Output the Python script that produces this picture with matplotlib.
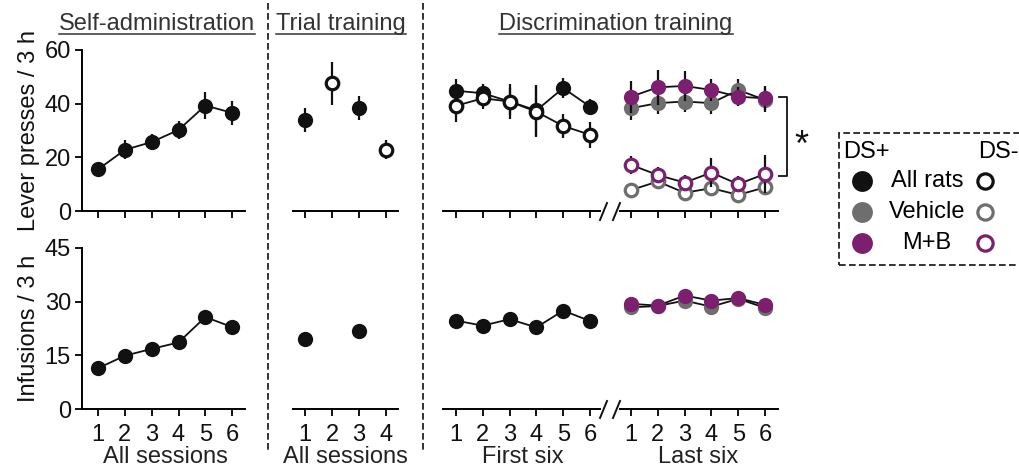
import numpy as np
import matplotlib
matplotlib.use('Agg')
import matplotlib.pyplot as plt
import matplotlib.transforms as mtransforms
from matplotlib.lines import Line2D
from matplotlib.patches import Rectangle

plt.rcParams['font.family'] = ['Liberation Sans', 'DejaVu Sans']

# ---- data ----
sessions6 = [1, 2, 3, 4, 5, 6]
sessions4 = [1, 2, 3, 4]

# lever presses / 3 h
sa_press = [15.5, 22.8, 25.7, 30.2, 39.3, 36.6]
sa_press_err = [2.0, 3.5, 3.0, 3.5, 5.0, 4.5]
trial_press = [33.8, 47.6, 38.3, 22.8]
trial_press_err = [4.5, 8.0, 4.5, 3.5]
trial_is_dsplus = [True, False, True, False]
first_plus = [44.8, 43.9, 40.8, 37.5, 45.8, 38.9]
first_plus_err = [4.5, 3.5, 5.0, 9.5, 3.6, 3.0]
first_minus = [39.2, 42.0, 40.8, 37.0, 31.7, 28.4]
first_minus_err = [6.0, 4.0, 6.5, 9.5, 4.6, 4.9]
veh_plus = [38.3, 40.2, 40.8, 40.2, 45.1, 41.4]
veh_plus_err = [4.5, 4.0, 4.0, 4.0, 4.0, 4.5]
mb_plus = [42.6, 46.1, 46.6, 45.1, 42.6, 42.0]
mb_plus_err = [6.0, 6.5, 5.7, 4.0, 3.5, 4.5]
veh_minus = [7.8, 11.0, 6.8, 8.5, 6.0, 8.8]
veh_minus_err = [2.5, 2.5, 3.0, 3.0, 2.5, 3.0]
mb_minus = [17.2, 13.4, 10.6, 14.3, 10.0, 13.8]
mb_minus_err = [3.3, 3.0, 3.0, 5.5, 3.0, 7.0]

# infusions / 3 h
sa_inf = [11.4, 14.9, 16.8, 18.6, 25.7, 22.9]
trial_inf = [19.6, np.nan, 21.7, np.nan]
first_inf = [24.7, 23.3, 25.1, 22.8, 27.5, 24.6]
veh_inf = [28.4, 28.8, 30.3, 28.6, 30.8, 28.3]
mb_inf = [29.4, 28.9, 31.7, 30.3, 31.0, 29.1]

BLACK = '#111111'
GREY = '#6e6e6e'
PURPLE = '#7d1f6f'
FS = 17

W, H = 1019, 471
fig = plt.figure(figsize=(W / 100, H / 100), dpi=100)


def fx(x):
    return x / W


def fy(y):
    return 1 - y / H


def px_axes(x0, x1, ytop, ybot):
    return fig.add_axes([fx(x0), fy(ybot), (x1 - x0) / W, (ybot - ytop) / H])


def style(ax, xlim, ylim, yticks=None, labels=False):
    ax.set_xlim(*xlim)
    ax.set_ylim(*ylim)
    ax.patch.set_alpha(0)
    for s in ['top', 'right']:
        ax.spines[s].set_visible(False)
    ax.spines['bottom'].set_linewidth(1.4)
    ax.spines['left'].set_linewidth(1.4)
    ax.set_xticks(sessions6 if xlim[1] > 5 else sessions4)
    ax.tick_params(axis='both', direction='out', length=5, width=1.4,
                   labelsize=FS, pad=3, colors='#111111')
    ax.tick_params(axis='x', labelbottom=labels, pad=6)
    if yticks is None:
        ax.spines['left'].set_visible(False)
        ax.set_yticks([])
    else:
        ax.set_yticks(yticks)


def series(ax, x, y, err, color, filled, z, line=True):
    if line:
        ax.plot(x, y, '-', color=BLACK, lw=1.3, zorder=z)
    if err is not None:
        ax.errorbar(x, y, yerr=err, fmt='none', ecolor=BLACK, elinewidth=1.6,
                    capsize=0, zorder=z + 0.1)
    if filled:
        ax.plot(x, y, 'o', ms=11, mfc=color, mec=color, mew=0, zorder=z + 0.2,
                clip_on=False)
    else:
        ax.plot(x, y, 'o', ms=9, mfc='white', mec=color, mew=2.3, zorder=z + 0.2,
                clip_on=False)


# axes (top row: lever presses, bottom row: infusions)
sa_top = px_axes(82, 245, 50, 211)
tr_top = px_axes(293, 398, 50, 211)
f6_top = px_axes(443, 600, 50, 211)
l6_top = px_axes(620, 778, 50, 211)
sa_bot = px_axes(82, 245, 248, 409)
tr_bot = px_axes(293, 398, 248, 409)
f6_bot = px_axes(443, 600, 248, 409)
l6_bot = px_axes(620, 778, 248, 409)

style(sa_top, (0.40, 6.48), (0, 60), [0, 20, 40, 60])
style(tr_top, (0.556, 4.444), (0, 60))
style(f6_top, (0.515, 6.373), (0, 60))
style(l6_top, (0.59, 6.485), (0, 60))
style(sa_bot, (0.40, 6.48), (0, 45), [0, 15, 30, 45], labels=True)
style(tr_bot, (0.556, 4.444), (0, 45), labels=True)
style(f6_bot, (0.515, 6.373), (0, 45), labels=True)
style(l6_bot, (0.59, 6.485), (0, 45), labels=True)

# self-administration
series(sa_top, sessions6, sa_press, sa_press_err, BLACK, True, 3)
series(sa_bot, sessions6, sa_inf, None, BLACK, True, 3)

# trial training
for x, y, e, plus in zip(sessions4, trial_press, trial_press_err, trial_is_dsplus):
    series(tr_top, [x], [y], [e], BLACK, plus, 3, line=False)
series(tr_bot, sessions4, trial_inf, None, BLACK, True, 3, line=False)

# discrimination, first six
series(f6_top, sessions6, first_plus, first_plus_err, BLACK, True, 3)
series(f6_top, sessions6, first_minus, first_minus_err, BLACK, False, 4)
series(f6_bot, sessions6, first_inf, None, BLACK, True, 3)

# discrimination, last six
series(l6_top, sessions6, veh_minus, veh_minus_err, GREY, False, 3)
series(l6_top, sessions6, mb_minus, mb_minus_err, PURPLE, False, 4)
series(l6_top, sessions6, veh_plus, veh_plus_err, GREY, True, 5)
series(l6_top, sessions6, mb_plus, mb_plus_err, PURPLE, True, 6)
series(l6_bot, sessions6, veh_inf, None, GREY, True, 3)
series(l6_bot, sessions6, mb_inf, None, PURPLE, True, 4)

# axis break marks
for ybase in (211, 409):
    for xb in (600, 613):
        fig.add_artist(Line2D([fx(xb), fx(xb + 7)], [fy(ybase + 9), fy(ybase - 8)],
                              color=BLACK, lw=1.4, transform=fig.transFigure))

# x labels
for ax, txt, n in [(sa_bot, 'All sessions', 6), (tr_bot, 'All sessions', 4),
                   (f6_bot, 'First six', 6), (l6_bot, 'Last six', 6)]:
    tr = mtransforms.blended_transform_factory(ax.transData, fig.transFigure)
    ax.text((1 + n) / 2, fy(463), txt, transform=tr, ha='center', va='baseline',
            fontsize=FS, color='#222222')

# y labels
fig.text(fx(29), fy(131), 'Lever presses / 3 h', rotation=90, ha='center',
         va='center', fontsize=FS, color='#111111')
fig.text(fx(29), fy(328), 'Infusions / 3 h', rotation=90, ha='center',
         va='center', fontsize=FS, color='#111111')

# section titles, underlined
titles = []
for cx, txt in [(157, 'Self-administration'), (341, 'Trial training'),
                (616, 'Discrimination training')]:
    titles.append(fig.text(fx(cx), fy(30), txt, ha='center', va='baseline',
                           fontsize=FS, color='#333333'))
fig.canvas.draw()
for t in titles:
    bb = t.get_window_extent()
    fig.add_artist(Line2D([bb.x0 / W, bb.x1 / W], [fy(34), fy(34)], color='#333333',
                          lw=1.1, transform=fig.transFigure))

# dashed separators
for xs in (268, 423):
    fig.add_artist(Line2D([fx(xs), fx(xs)], [fy(3), fy(450)], color=BLACK, lw=1.2,
                          ls=(0, (4, 2)), transform=fig.transFigure))

# significance bracket
fig.add_artist(Line2D([fx(779), fx(787), fx(787), fx(779)],
                      [fy(97), fy(97), fy(176), fy(176)], color=BLACK, lw=1.3,
                      transform=fig.transFigure))
fig.text(fx(801), fy(146), '*', ha='center', va='center', fontsize=26,
         color=BLACK)

# legend box
fig.add_artist(Rectangle((fx(839), fy(265)), fx(1045) - fx(839), (265 - 133) / H,
                         fill=False, ec=BLACK, lw=1.2, ls=(0, (4, 2)),
                         transform=fig.transFigure, clip_on=False))
fig.text(fx(843), fy(152), 'DS+', ha='left', va='center', fontsize=FS)
fig.text(fx(978), fy(152), 'DS-', ha='left', va='center', fontsize=FS)
for yl, name, col in [(181, 'All rats', BLACK), (212, 'Vehicle', GREY),
                      (243, 'M+B', PURPLE)]:
    fig.add_artist(Line2D([fx(862)], [fy(yl)], marker='o', ms=15, mfc=col,
                          mec=col, mew=0, transform=fig.transFigure))
    fig.add_artist(Line2D([fx(985)], [fy(yl)], marker='o', ms=11, mfc='white',
                          mec=col, mew=2.3, transform=fig.transFigure))
    fig.text(fx(927), fy(yl), name, ha='center', va='center', fontsize=FS)

fig.savefig('out.png', dpi=100)
